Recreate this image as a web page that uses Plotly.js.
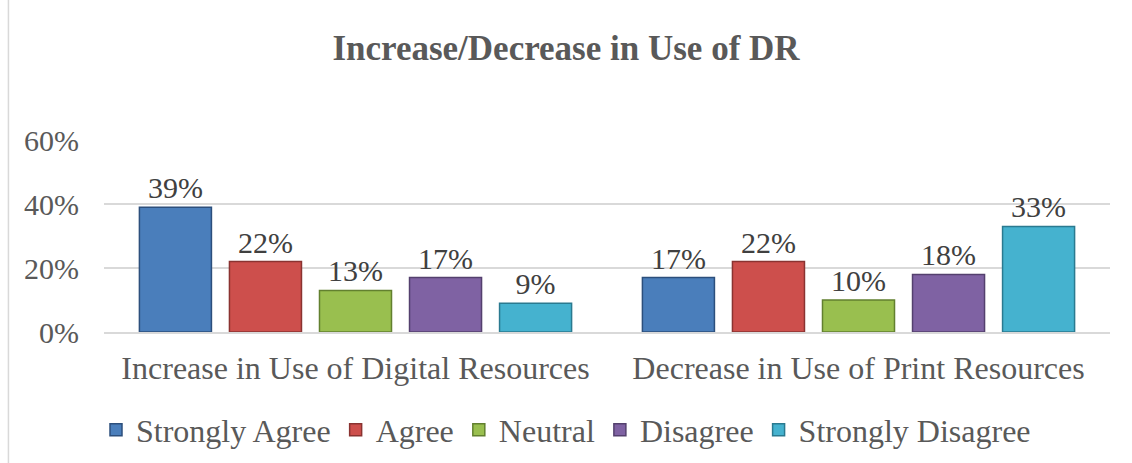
<!DOCTYPE html>
<html>
<head>
<meta charset="utf-8">
<script src="https://cdn.plot.ly/plotly-3.0.1.min.js"></script>
<style>html,body{margin:0;padding:0;background:#fff}#chart{width:1132px;height:463px}</style>
</head>
<body>
<div id="chart"></div>
<script>
const categories = ["Increase in Use of Digital Resources", "Decrease in Use of Print Resources"];
const seriesNames = ["Strongly Agree", "Agree", "Neutral", "Disagree", "Strongly Disagree"];
const stronglyAgree = [0.39, 0.17];
const agree = [0.22, 0.22];
const neutral = [0.13, 0.10];
const disagree = [0.17, 0.18];
const stronglyDisagree = [0.09, 0.33];
const yTickVals = [0, 0.2, 0.4, 0.6];
const yTickText = ["0%", "20%", "40%", "60%"];

const seriesValues = [stronglyAgree, agree, neutral, disagree, stronglyDisagree];
const fills = ["#4a7ebb", "#cd4f4c", "#99bf4f", "#7f62a3", "#45b2cf"];
const edges = ["#2c4f7c", "#8a3331", "#62802f", "#54406e", "#2a7a90"];
const FONT = "Liberation Serif, Times New Roman, serif";

const traces = seriesNames.map((name, i) => ({
  type: "bar",
  name: name,
  x: categories,
  y: seriesValues[i],
  text: seriesValues[i].map(v => Math.round(v * 100) + "%"),
  textposition: "outside",
  cliponaxis: false,
  textfont: {family: FONT, size: 30, color: "#404040"},
  marker: {color: fills[i], line: {color: edges[i], width: 1.5}},
  hoverinfo: "skip"
}));

const layout = {
  width: 1132, height: 463,
  margin: {l: 104, r: 22, t: 140, b: 131, autoexpand: false},
  paper_bgcolor: "#fff", plot_bgcolor: "#fff",
  font: {family: FONT},
  title: {text: "<b>Increase/Decrease in Use of DR</b>", font: {family: FONT, size: 35, color: "#595959"}, x: 0.5, xanchor: "center", y: 0.896, yanchor: "middle"},
  barmode: "group",
  bargap: 0.105,
  bargroupgap: 0.2,
  showlegend: true,
  legend: {orientation: "h", xref: "container", x: 0.5, xanchor: "center", y: -0.51, yanchor: "middle", font: {family: FONT, size: 32, color: "#595959"}, itemwidth: 30, tracegroupgap: 0, itemclick: false},
  xaxis: {
    showgrid: false, showline: true, linecolor: "#d9d9d9", linewidth: 1.5, ticks: "",
    tickfont: {family: FONT, size: 32, color: "#595959"}, ticklabelstandoff: 7, fixedrange: true
  },
  yaxis: {
    range: [0, 0.6], tickvals: yTickVals, ticktext: yTickText,
    showgrid: true, gridcolor: "#d9d9d9", gridwidth: 1.5, zeroline: false, showline: false, ticks: "",
    tickfont: {family: FONT, size: 30, color: "#595959"}, ticklabelstandoff: 24, fixedrange: true
  },
  shapes: [{type: "rect", xref: "paper", yref: "paper", x0: -0.095, x1: 1.1, y0: -0.72, y1: 2, line: {color: "#d9d9d9", width: 1.5}, fillcolor: "rgba(0,0,0,0)"}]
};

Plotly.newPlot("chart", traces, layout, {displayModeBar: false, staticPlot: true});
</script>
</body>
</html>
